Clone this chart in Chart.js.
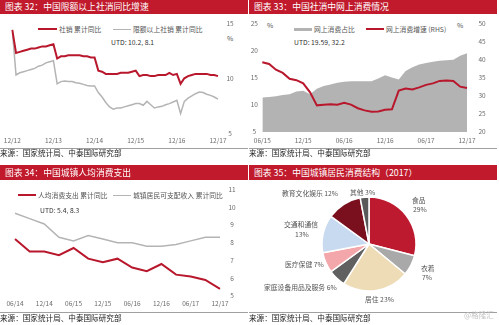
<!DOCTYPE html>
<html lang="zh-CN">
<head>
<meta charset="UTF-8">
<title>中国社消与居民消费</title>
<script src="https://cdn.jsdelivr.net/npm/chart.js"></script>
<style>
  html, body { margin: 0; padding: 0; background: #fff; }
  body { width: 499px; height: 325px; position: relative; overflow: hidden;
         font-family: "Noto Sans CJK SC", "Noto Sans", sans-serif; }
  .bar { position: absolute; background: #c01a2c; color: #fff; font-size: 8.8px;
         padding-left: 5px; box-sizing: border-box; white-space: nowrap; }
  .rule { position: absolute; height: 1px; background: #a0a0a0; }
  .src { position: absolute; font-size: 7.6px; color: #222; line-height: 10px; white-space: nowrap; }
  .t { position: absolute; font-size: 6.8px; color: #555; line-height: 8px; white-space: nowrap; }
  .sw { position: absolute; }
  canvas { position: absolute; }
</style>
</head>
<body>

<!-- 图表 32 -->
<div class="bar" style="left:0;top:0;width:248px;height:14px;line-height:14px;">图表 32：中国限额以上社消同比增速</div>
<div class="sw" style="left:38px;top:28px;width:19px;height:2px;background:#b8172c;"></div>
<div class="t" style="left:59px;top:25px;">社销 累计同比</div>
<div class="sw" style="left:113px;top:28.5px;width:18px;height:1.5px;background:#b4b4b4;"></div>
<div class="t" style="left:133px;top:25px;">限额以上社销 累计同比</div>
<div class="t" style="left:111px;top:38px;color:#333;">UTD: 10.2, 8.1</div>
<div class="t" style="left:227px;top:34px;">%</div>
<canvas id="c32" width="249" height="134" style="left:0;top:14px;"></canvas>
<div class="rule" style="left:0;top:148px;width:248px;"></div>
<div class="src" style="left:0;top:148px;">来源：国家统计局、中泰国际研究部</div>

<!-- 图表 33 -->
<div class="bar" style="left:249px;top:0;width:248px;height:14px;line-height:14px;">图表 33：中国社消中网上消费情况</div>
<div class="sw" style="left:294px;top:27.5px;width:18px;height:3px;background:#b3b3b3;"></div>
<div class="t" style="left:314px;top:25px;">网上消费占比</div>
<div class="sw" style="left:366px;top:28px;width:18px;height:2px;background:#b8172c;"></div>
<div class="t" style="left:386px;top:25px;">网上消费增速 (RHS)</div>
<div class="t" style="left:267px;top:21px;">%</div>
<div class="t" style="left:457px;top:21px;">%</div>
<div class="t" style="left:294px;top:38px;color:#333;">UTD: 19.59, 32.2</div>
<canvas id="c33" width="250" height="134" style="left:249px;top:14px;"></canvas>
<div class="rule" style="left:249px;top:148px;width:248px;"></div>
<div class="src" style="left:249px;top:148px;">来源：国家统计局、中泰国际研究部</div>

<!-- 图表 34 -->
<div class="bar" style="left:0;top:165px;width:248px;height:15px;line-height:15px;">图表 34：中国城镇人均消费支出</div>
<div class="sw" style="left:18px;top:194px;width:18px;height:2px;background:#b8172c;"></div>
<div class="t" style="left:38px;top:191px;">人均消费支出 累计同比</div>
<div class="sw" style="left:113px;top:194.5px;width:18px;height:1.5px;background:#b4b4b4;"></div>
<div class="t" style="left:133px;top:191px;">城镇居民可支配收入 累计同比</div>
<div class="t" style="left:40px;top:206px;color:#333;">UTD: 5.4, 8.3</div>
<canvas id="c34" width="249" height="132" style="left:0;top:180px;"></canvas>
<div class="rule" style="left:0;top:312px;width:248px;"></div>
<div class="src" style="left:0;top:313px;">来源：国家统计局、中泰国际研究部</div>

<!-- 图表 35 -->
<div class="bar" style="left:249px;top:165px;width:248px;height:15px;line-height:15px;">图表 35：中国城镇居民消费结构（2017）</div>
<canvas id="c35" width="110" height="110" style="left:314px;top:189px;"></canvas>
<div class="t" style="left:412px;top:196px;">食品</div>
<div class="t" style="left:413px;top:205px;">29%</div>
<div class="t" style="left:421px;top:264px;">衣着</div>
<div class="t" style="left:422px;top:273px;">7%</div>
<div class="t" style="left:365px;top:295px;">居住 23%</div>
<div class="t" style="left:264px;top:283px;">家庭设备用品及服务 6%</div>
<div class="t" style="left:285px;top:260px;">医疗保健 7%</div>
<div class="t" style="left:284px;top:220px;">交通和通信</div>
<div class="t" style="left:295px;top:230px;">13%</div>
<div class="t" style="left:282px;top:189px;">教育文化娱乐 12%</div>
<div class="t" style="left:350px;top:188px;">其他 3%</div>
<div class="rule" style="left:249px;top:312px;width:248px;"></div>
<div class="src" style="left:249px;top:313px;">来源：国家统计局、中泰国际研究部</div>
<div class="src" style="left:464px;top:310px;color:#c4c4c4;">@格隆汇</div>

<script>
const RED = '#b8172c';
const GREY = '#b4b4b4';
const AREA = '#b3b3b3';
const tickFont = { family: "'Noto Sans CJK SC', sans-serif", size: 6.5 };
const tickColor = '#6b6b6b';

// 图表 32: monthly cumulative YoY (no January release)
const months32 = ['12/12'];
for (let y = 13; y <= 17; y++) for (let m = 2; m <= 12; m++) months32.push(String(m).padStart(2, '0') + '/' + y);
const ticks32 = ['12/12', '12/13', '12/14', '12/15', '12/16', '12/17'];
const retailYoY = [14.4,
  12.3, 12.4, 12.5, 12.6, 12.7, 12.7, 12.8, 12.9, 12.9, 13.0, 13.1,
  11.8, 12.0, 12.0, 12.1, 12.1, 12.1, 12.1, 12.0, 12.0, 11.9, 11.9,
  10.7, 10.6, 10.4, 10.4, 10.4, 10.4, 10.5, 10.5, 10.5, 10.6, 10.7,
  10.2, 10.3, 10.3, 10.2, 10.2, 10.3, 10.3, 10.3, 10.5, 10.3, 10.4,
  9.5, 10.0, 10.2, 10.3, 10.4, 10.4, 10.4, 10.4, 10.3, 10.3, 10.2];
const retailAboveYoY = [14.4,
  10.3, 10.5, 10.6, 10.7, 10.8, 10.9, 11.1, 11.2, 11.4, 11.5, 11.6,
  9.5, 9.7, 9.75, 9.7, 9.7, 9.6, 9.55, 9.45, 9.35, 9.3, 9.3,
  8.7, 8.3, 7.8, 7.4, 7.2, 7.3, 7.3, 7.4, 7.5, 7.6, 7.7,
  7.7, 7.55, 7.9, 7.6, 7.3, 7.4, 7.45, 7.6, 7.7, 7.85, 8.0,
  6.8, 7.9, 8.2, 8.4, 8.6, 8.75, 8.7, 8.55, 8.45, 8.3, 8.1];

// 图表 33: online retail share (LHS) and growth (RHS)
const months33 = ['06/15', '07/15', '08/15', '09/15', '10/15', '11/15', '12/15',
  '01/16', '02/16', '03/16', '04/16', '05/16', '06/16', '07/16', '08/16', '09/16', '10/16', '11/16', '12/16',
  '01/17', '02/17', '03/17', '04/17', '05/17', '06/17', '07/17', '08/17', '09/17', '10/17', '11/17', '12/17'];
const ticks33 = ['06/15', '12/15', '06/16', '12/16', '06/17', '12/17'];
const onlineShare = [11.4, 11.5, 11.6, 11.85, 12.0, 12.5, 12.65, 12.0, 13.0, 13.5, 13.8, 14.1, 14.3, 14.4, 14.4, 14.4,
  14.4, 14.9, 15.5, 15.1, 14.7, 16.3, 17.0, 17.5, 17.8, 18.0, 18.2, 18.3, 18.4, 19.1, 19.6];
const onlineGrowth = [39.4, 38.9, 37.3, 36.4, 34.8, 34.4, 33.5, 31.0, 27.4, 27.6, 27.7, 27.6, 28.1, 27.6, 26.6, 26.0,
  25.6, 25.7, 26.2, 26.3, 31.5, 32.1, 31.8, 32.4, 33.1, 33.5, 34.2, 34.3, 34.2, 32.6, 32.2];

// 图表 34: quarterly cumulative YoY
const quarters34 = ['06/14', '09/14', '12/14', '03/15', '06/15', '09/15', '12/15', '03/16',
  '06/16', '09/16', '12/16', '03/17', '06/17', '09/17', '12/17'];
const ticks34 = ['06/14', '12/14', '06/15', '12/15', '06/16', '12/16', '06/17', '12/17'];
const spendYoY = [8.2, 7.5, 7.5, 7.3, 7.7, 7.1, 6.9, 7.1, 6.6, 6.4, 6.8, 6.2, 6.1, 5.9, 5.4];
const incomeYoY = [9.65, 9.35, 9.05, 8.3, 8.1, 8.4, 8.2, 8.0, 8.0, 7.8, 7.8, 7.9, 8.1, 8.3, 8.3];

// 图表 35: 2017 consumption structure
const pieCats = ['食品', '衣着', '居住', '家庭设备用品及服务', '医疗保健', '交通和通信', '教育文化娱乐', '其他'];
const pieShares = [29, 7, 23, 6, 7, 13, 12, 3];
const pieColors = ['#bd1a2f', '#a9a9a9', '#eedcb6', '#606060', '#f4a7aa', '#c8daef', '#7a0f1e', '#595959'];

function yAxis(pos, min, max, step, pad, width) {
  return {
    position: pos, min: min, max: max,
    border: { display: false },
    grid: { display: false, drawTicks: false },
    ticks: { stepSize: step, padding: pad, crossAlign: 'center', color: tickColor, font: tickFont },
    // fixed width, and don't let the tick padding push the plot area down
    afterFit: s => { s.width = width; s.paddingTop = 0; s.paddingBottom = 0; }
  };
}
function xAxis(shown, pad, height) {
  return {
    type: 'category', offset: false,
    border: { display: false },
    grid: { display: false, drawTicks: false },
    ticks: {
      autoSkip: false, maxRotation: 0, minRotation: 0, padding: pad, color: tickColor, font: tickFont,
      callback: function (v) { const l = this.getLabelForValue(v); return shown.includes(l) ? l : ''; }
    },
    afterFit: s => { s.height = height; }
  };
}
const base = {
  responsive: false, animation: false,
  plugins: { legend: { display: false }, tooltip: { enabled: false } },
  elements: { point: { radius: 0 }, line: { tension: 0 } }
};

new Chart(document.getElementById('c32'), {
  type: 'line',
  data: {
    labels: months32,
    datasets: [
      { data: retailYoY, borderColor: RED, borderWidth: 2, yAxisID: 'y' },
      { data: retailAboveYoY, borderColor: GREY, borderWidth: 1.5, yAxisID: 'y' }
    ]
  },
  options: Object.assign({}, base, {
    layout: { padding: { left: 10, top: 9.3, right: 9, bottom: 0 } },
    scales: { x: xAxis(ticks32, 3.8, 14.7), y: yAxis('right', 5, 15, 5, 8.4, 22) }
  })
});

new Chart(document.getElementById('c33'), {
  type: 'line',
  data: {
    labels: months33,
    datasets: [
      { data: onlineGrowth, borderColor: RED, borderWidth: 2, yAxisID: 'y1' },
      { data: onlineShare, borderWidth: 0, borderColor: AREA, backgroundColor: AREA, fill: 'start', yAxisID: 'y' }
    ]
  },
  options: Object.assign({}, base, {
    layout: { padding: { left: 1, top: 10, right: 12, bottom: 0 } },
    scales: {
      x: xAxis(ticks33, 4.8, 16),
      y: yAxis('left', 5, 25, 5, 4.4, 12),
      y1: yAxis('right', 20, 50, 5, 11.4, 20)
    }
  })
});

new Chart(document.getElementById('c34'), {
  type: 'line',
  data: {
    labels: quarters34,
    datasets: [
      { data: spendYoY, borderColor: RED, borderWidth: 2, yAxisID: 'y' },
      { data: incomeYoY, borderColor: GREY, borderWidth: 1.5, yAxisID: 'y' }
    ]
  },
  options: Object.assign({}, base, {
    layout: { padding: { left: 15, top: 9.3, right: 9, bottom: 0 } },
    scales: { x: xAxis(ticks34, 4.1, 16), y: yAxis('right', 5, 11, 1, 8.4, 20) }
  })
});

new Chart(document.getElementById('c35'), {
  type: 'pie',
  data: {
    labels: pieCats,
    datasets: [{ data: pieShares, backgroundColor: pieColors, borderColor: '#fff', borderWidth: 1.5 }]
  },
  options: {
    responsive: false, animation: false, radius: 47,
    plugins: { legend: { display: false }, tooltip: { enabled: false } }
  }
});
</script>
</body>
</html>
